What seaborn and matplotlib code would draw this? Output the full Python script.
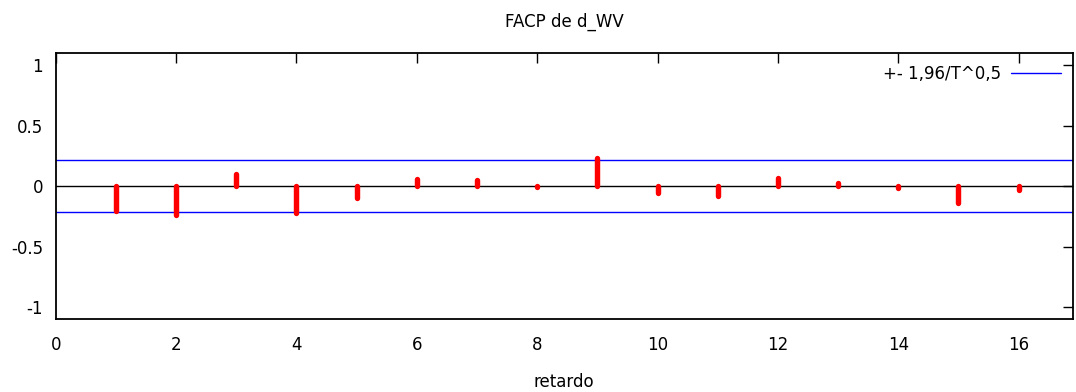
import numpy as np
import pandas as pd
import matplotlib
matplotlib.use("Agg")
import matplotlib.pyplot as plt
import seaborn as sns

# Partial autocorrelations of d_WV by lag
lags = list(range(1, 17))
pacf = [-0.205, -0.235, 0.10, -0.225, -0.10, 0.062, 0.05, -0.004,
        0.235, -0.06, -0.08, 0.065, 0.025, -0.015, -0.135, -0.03]
band = 0.213  # 1.96 / sqrt(T)

title = "FACP de d_WV"
xlabel = "retardo"
band_label = "+- 1,96/T^0,5"
xticks = [0, 2, 4, 6, 8, 10, 12, 14, 16]
yticks = [-1, -0.5, 0, 0.5, 1]

sns.set_style("white")
plt.rcParams["font.family"] = ["DejaVu Sans"]
plt.rcParams["path.simplify"] = False
plt.rcParams["text.color"] = "black"

fs = 12

fig = plt.figure(figsize=(10.76, 3.92), dpi=100)
ax = fig.add_axes([0.0518, 0.186, 0.9452, 0.678])

# stems from zero to each value
stems = pd.DataFrame({
    "lag": [l for l in lags for _ in range(2)],
    "value": [v for p in pacf for v in (0.0, p)],
})
sns.lineplot(data=stems, x="lag", y="value", units="lag", estimator=None,
             color="red", linewidth=3.9, solid_capstyle="round", ax=ax,
             legend=False, zorder=3)

xr = [0, 16.9]
sns.lineplot(x=xr, y=[0, 0], color="black", linewidth=1, ax=ax, zorder=2)
sns.lineplot(x=xr, y=[band, band], color="blue", linewidth=1,
             label=band_label, ax=ax, zorder=2)
sns.lineplot(x=xr, y=[-band, -band], color="blue", linewidth=1, ax=ax,
             zorder=2)

ax.set_xlim(0, 16.9)
ax.set_ylim(-1.1, 1.1)
ax.set_xticks(xticks)
ax.set_yticks(yticks)
ax.set_yticklabels(["-1", "-0.5", "0", "0.5", "1"])
ax.tick_params(direction="in", length=7, width=1, top=True, right=True,
               labelsize=fs, colors="black", labelcolor="black")
ax.tick_params(axis="y", pad=9)
ax.tick_params(axis="x", pad=12)
for s in ax.spines.values():
    s.set_visible(True)
    s.set_color("black")
    s.set_linewidth(1.3)

ax.set_xlabel(xlabel, fontsize=fs, labelpad=14, color="black")
ax.set_ylabel("")
ax.set_title(title, fontsize=fs, color="black", pad=19)

leg = ax.legend(loc="upper right", frameon=False, markerfirst=False,
                fontsize=fs, handlelength=3.0, borderaxespad=0.3,
                handletextpad=0.6)

fig.savefig("out.png", dpi=100, facecolor="white")
